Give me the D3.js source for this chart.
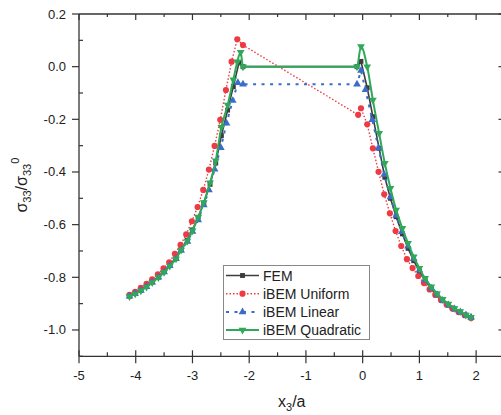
<!DOCTYPE html>
<html lang="en">
<head>
<meta charset="UTF-8" />
<title>sigma33 along x3/a</title>
<script src="https://d3js.org/d3.v7.min.js"></script>
<style>
  html, body { margin: 0; padding: 0; background: #fff; }
  svg { display: block; font-family: "Liberation Sans", Arial, sans-serif; }
  .tick-label { font-size: 13px; fill: #222; }
  .legend-text { font-size: 14px; fill: #222; }
  .axis-title { font-size: 16px; fill: #222; }
</style>
</head>
<body>
<svg id="chart" width="501" height="415"></svg>
<script>
// values
const seriesNames = ["FEM", "iBEM Uniform", "iBEM Linear", "iBEM Quadratic"];

const femX = [-4.11,-4.01,-3.91,-3.81,-3.71,-3.60,-3.50,-3.40,-3.29,-3.20,-3.09,-3.00,-2.90,-2.80,-2.69,-2.59,-2.49,-2.38,-2.28,-2.18,-2.11,
              -0.10,-0.03,0.08,0.18,0.29,0.39,0.49,0.59,0.70,0.80,0.90,1.00,1.10,1.21,1.31,1.41,1.51,1.62,1.72,1.82,1.91];
const femY = [-0.871,-0.861,-0.849,-0.835,-0.818,-0.799,-0.778,-0.754,-0.727,-0.694,-0.660,-0.620,-0.572,-0.518,-0.447,-0.366,-0.262,-0.165,-0.076,0.015,0.0,
              0.0,0.02,-0.08,-0.19,-0.31,-0.42,-0.50,-0.57,-0.635,-0.69,-0.737,-0.778,-0.813,-0.844,-0.868,-0.889,-0.906,-0.921,-0.933,-0.944,-0.953];

const uniformX = [-4.11,-4.01,-3.91,-3.81,-3.71,-3.61,-3.51,-3.41,-3.31,-3.21,-3.11,-3.01,-2.91,-2.81,-2.71,-2.61,-2.51,-2.41,-2.31,-2.21,-2.11,
                  -0.08,-0.03,0.08,0.18,0.28,0.38,0.48,0.58,0.68,0.78,0.88,0.98,1.08,1.18,1.28,1.38,1.48,1.58,1.69,1.80,1.91];
const uniformY = [-0.867,-0.855,-0.840,-0.825,-0.808,-0.789,-0.766,-0.743,-0.711,-0.677,-0.637,-0.587,-0.533,-0.468,-0.391,-0.301,-0.202,-0.089,0.019,0.104,0.082,
                  -0.183,-0.158,-0.219,-0.310,-0.399,-0.485,-0.557,-0.624,-0.681,-0.731,-0.765,-0.795,-0.822,-0.846,-0.867,-0.886,-0.903,-0.918,-0.932,-0.944,-0.955];

const linearX = [-4.11,-4.01,-3.91,-3.81,-3.71,-3.60,-3.50,-3.40,-3.29,-3.20,-3.09,-3.00,-2.90,-2.80,-2.71,-2.61,-2.50,-2.40,-2.29,-2.20,-2.11,
                 -0.10,-0.03,0.05,0.17,0.28,0.38,0.49,0.59,0.69,0.80,0.90,1.00,1.10,1.21,1.31,1.41,1.51,1.62,1.72,1.82,1.91];
const linearY = [-0.872,-0.862,-0.850,-0.836,-0.819,-0.800,-0.780,-0.756,-0.730,-0.698,-0.664,-0.626,-0.582,-0.525,-0.468,-0.390,-0.308,-0.215,-0.129,-0.061,-0.067,
                 -0.067,-0.015,-0.088,-0.202,-0.310,-0.410,-0.495,-0.565,-0.627,-0.682,-0.730,-0.773,-0.810,-0.842,-0.866,-0.888,-0.905,-0.920,-0.932,-0.943,-0.952];

const quadX = [-4.11,-4.01,-3.91,-3.81,-3.71,-3.60,-3.50,-3.40,-3.29,-3.20,-3.09,-3.00,-2.90,-2.80,-2.69,-2.59,-2.49,-2.38,-2.28,-2.21,-2.15,-2.11,
               -0.10,-0.03,0.08,0.18,0.29,0.39,0.49,0.59,0.70,0.80,0.90,1.00,1.10,1.21,1.31,1.41,1.51,1.62,1.72,1.82,1.91];
const quadY = [-0.873,-0.863,-0.851,-0.837,-0.820,-0.801,-0.781,-0.757,-0.730,-0.696,-0.662,-0.623,-0.572,-0.516,-0.441,-0.357,-0.230,-0.146,-0.050,0.019,0.055,0.0,
               0.0,0.077,0.0,-0.127,-0.253,-0.367,-0.462,-0.544,-0.614,-0.671,-0.722,-0.766,-0.804,-0.836,-0.861,-0.883,-0.901,-0.918,-0.930,-0.943,-0.952];

const xTicks = [-5, -4, -3, -2, -1, 0, 1, 2];
const yTicks = [0.2, 0.0, -0.2, -0.4, -0.6, -0.8, -1.0];

// styles
const styles = [
  { color: "#3c3c3c", width: 1.6, dash: null,     symbol: d3.symbolSquare,   size: 24, rot: 0,   curve: d3.curveLinear },
  { color: "#ee3a43", width: 1.4, dash: "1.5,2",  symbol: d3.symbolCircle,   size: 30, rot: 0,   curve: d3.curveLinear },
  { color: "#3b6cc9", width: 2,   dash: "3,5.5",  symbol: d3.symbolTriangle, size: 26, rot: 0,   curve: d3.curveLinear },
  { color: "#2fa85a", width: 2,   dash: null,     symbol: d3.symbolTriangle, size: 26, rot: 180, curve: d3.curveMonotoneX }
];

const series = [
  d3.zip(femX, femY),
  d3.zip(uniformX, uniformY),
  d3.zip(linearX, linearY),
  d3.zip(quadX, quadY)
];

const svg = d3.select("#chart");
const pLeft = 79, pRight = 504.5, pTop = 14, pBottom = 356.3;

const x = d3.scaleLinear().domain([-5, 2.5]).range([pLeft, pRight]);
const y = d3.scaleLinear().domain([-1.1, 0.2]).range([pBottom, pTop]);
const fmtY = v => d3.format(".1f")(v).replace("\u2212", "-");

// frame
const axisColor = "#333";
const frame = svg.append("g").attr("stroke", axisColor).attr("stroke-width", 1.3);
frame.append("line").attr("x1", pLeft).attr("x2", pRight).attr("y1", pTop).attr("y2", pTop);
frame.append("line").attr("x1", pLeft).attr("x2", pRight).attr("y1", pBottom).attr("y2", pBottom);
frame.append("line").attr("x1", pLeft).attr("x2", pLeft).attr("y1", pTop).attr("y2", pBottom);
frame.append("line").attr("x1", pRight).attr("x2", pRight).attr("y1", pTop).attr("y2", pBottom);

// x ticks
const xMinor = d3.range(-4.5, 2.5, 1);
const ticks = svg.append("g").attr("stroke", axisColor).attr("stroke-width", 1.2);
xTicks.forEach(v => {
  ticks.append("line").attr("x1", x(v)).attr("x2", x(v)).attr("y1", pBottom - 6).attr("y2", pBottom + 7);
  ticks.append("line").attr("x1", x(v)).attr("x2", x(v)).attr("y1", pTop).attr("y2", pTop + 6);
});
xMinor.forEach(v => {
  ticks.append("line").attr("x1", x(v)).attr("x2", x(v)).attr("y1", pBottom - 4).attr("y2", pBottom);
  ticks.append("line").attr("x1", x(v)).attr("x2", x(v)).attr("y1", pTop).attr("y2", pTop + 3);
});
// y ticks
const yMinor = d3.range(0.1, -1.15, -0.2);
yTicks.forEach(v => {
  ticks.append("line").attr("x1", pLeft - 7).attr("x2", pLeft).attr("y1", y(v)).attr("y2", y(v));
  ticks.append("line").attr("x1", pRight - 6).attr("x2", pRight).attr("y1", y(v)).attr("y2", y(v));
});
yMinor.forEach(v => {
  ticks.append("line").attr("x1", pLeft).attr("x2", pLeft + 4).attr("y1", y(v)).attr("y2", y(v));
  ticks.append("line").attr("x1", pRight - 3).attr("x2", pRight).attr("y1", y(v)).attr("y2", y(v));
});

svg.selectAll("text.xt").data(xTicks).enter().append("text")
  .attr("class", "tick-label xt")
  .attr("x", d => x(d)).attr("y", pBottom + 24)
  .attr("text-anchor", "middle")
  .text(d => String(d));

svg.selectAll("text.yt").data(yTicks).enter().append("text")
  .attr("class", "tick-label yt")
  .attr("x", pLeft - 13).attr("y", d => y(d) + 4.5)
  .attr("text-anchor", "end")
  .text(d => fmtY(d));

// axis titles
const xt = svg.append("text").attr("class", "axis-title")
  .attr("x", x(-1.25)).attr("y", 407).attr("text-anchor", "middle");
xt.append("tspan").text("x");
xt.append("tspan").attr("font-size", 11).attr("dy", 4).text("3");
xt.append("tspan").attr("dy", -4).text("/a");

const yt = svg.append("text").attr("class", "axis-title")
  .attr("transform", `translate(27,${(pTop + pBottom) / 2}) rotate(-90)`)
  .attr("text-anchor", "middle");
yt.append("tspan").text("\u03c3");
yt.append("tspan").attr("font-size", 11).attr("dy", 4).text("33");
yt.append("tspan").attr("dy", -4).text("/\u03c3");
yt.append("tspan").attr("font-size", 11).attr("dy", 4).text("33");
yt.append("tspan").attr("font-size", 11).attr("dy", -12).text("0");

// series
const plot = svg.append("g");
series.forEach((pts, i) => {
  const s = styles[i];
  const line = d3.line().x(d => x(d[0])).y(d => y(d[1])).curve(s.curve);
  plot.append("path")
    .attr("d", line(pts))
    .attr("fill", "none")
    .attr("stroke", s.color)
    .attr("stroke-width", s.width)
    .attr("stroke-dasharray", s.dash);
  const sym = d3.symbol().type(s.symbol).size(s.size);
  plot.selectAll(null).data(pts).enter().append("path")
    .attr("d", sym)
    .attr("transform", d => `translate(${x(d[0])},${y(d[1])}) rotate(${s.rot})`)
    .attr("fill", s.color);
});

// legend
const lg = svg.append("g");
lg.append("rect").attr("x", 223.5).attr("y", 265.5).attr("width", 146).attr("height", 74)
  .attr("fill", "#fff").attr("stroke", "#888").attr("stroke-width", 1);
seriesNames.forEach((name, i) => {
  const s = styles[i];
  const ly = 275.5 + i * 18.2;
  lg.append("line").attr("x1", 226).attr("x2", 259).attr("y1", ly).attr("y2", ly)
    .attr("stroke", s.color).attr("stroke-width", s.width).attr("stroke-dasharray", s.dash);
  lg.append("path").attr("d", d3.symbol().type(s.symbol).size(s.size))
    .attr("transform", `translate(242.5,${ly}) rotate(${s.rot})`)
    .attr("fill", s.color);
  lg.append("text").attr("class", "legend-text").attr("x", 263).attr("y", ly + 5).text(name);
});
</script>
</body>
</html>
